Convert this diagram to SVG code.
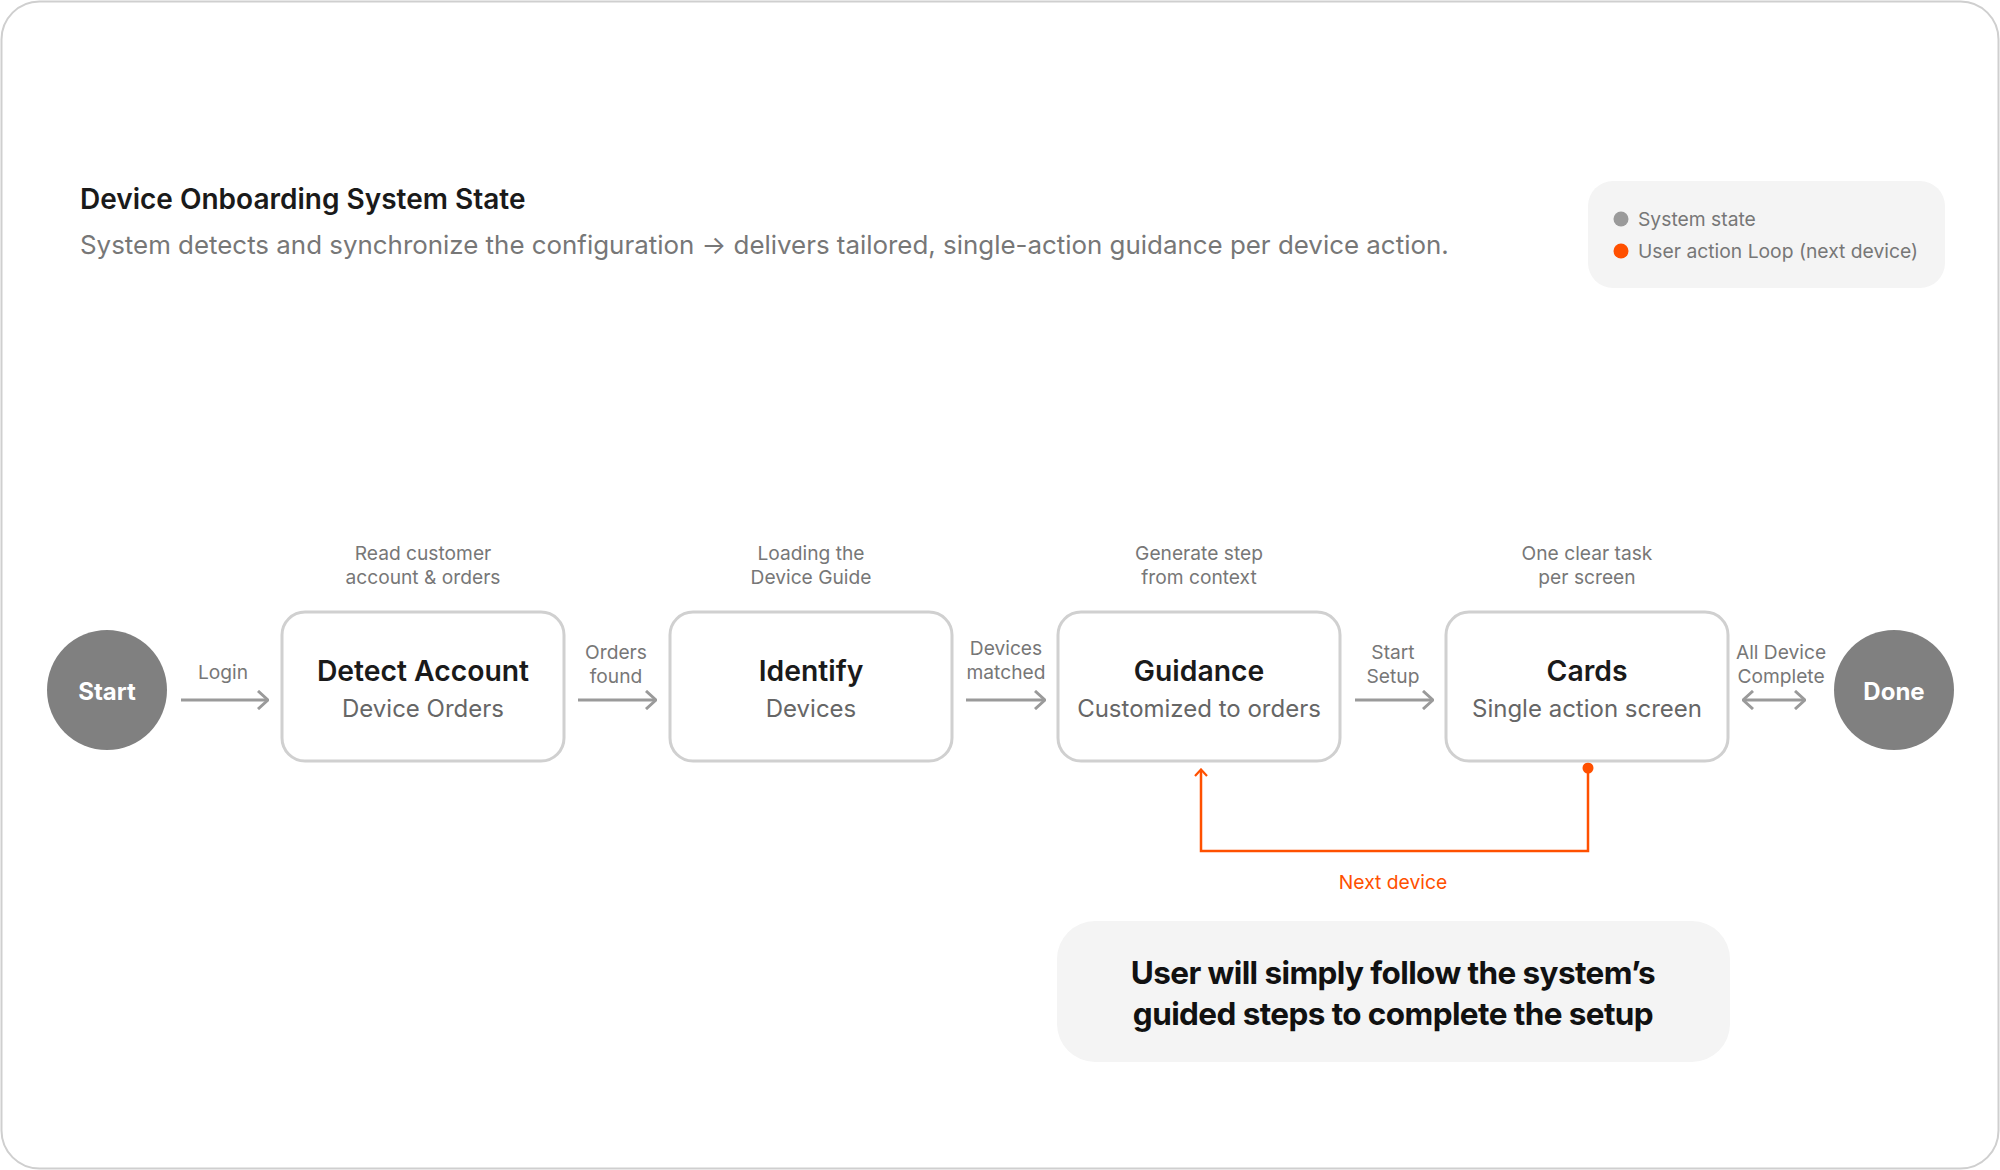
<svg xmlns="http://www.w3.org/2000/svg" width="2000" height="1170" viewBox="0 0 2000 1170">
<defs>
<style>
text{font-family:Inter,"Noto Sans","Liberation Sans",sans-serif}
.box{fill:#fff;stroke:#d0d0d0;stroke-width:3}
.ttl{font-size:28.3px;font-weight:600;fill:#1a1a1a;text-anchor:middle}
.sub{font-size:24px;fill:#666;text-anchor:middle}
.note{font-size:19.2px;fill:#777;text-anchor:middle}
.lbl{font-size:19.2px;fill:#777;text-anchor:middle}
.term{fill:#808080}
.termt{font-size:24px;font-weight:700;fill:#fff;text-anchor:middle}
.conn{fill:none;stroke:#9a9a9a;stroke-width:3}
.loop{fill:none;stroke:#ff5000;stroke-width:2.5}
</style>
<marker id="ah" viewBox="0 0 12 20" refX="11" refY="10" markerWidth="12" markerHeight="20" markerUnits="userSpaceOnUse" orient="auto-start-reverse">
<path d="M1 1 L11 10 L1 19" fill="none" stroke="#9a9a9a" stroke-width="3"/>
</marker>
<marker id="ahO" viewBox="0 0 14 10" refX="7" refY="2" markerWidth="14" markerHeight="10" markerUnits="userSpaceOnUse" orient="0">
<path d="M1 8 L7 1.5 L13 8" fill="none" stroke="#ff5000" stroke-width="2.2"/>
</marker>
</defs>
<rect x="1.5" y="1.5" width="1997" height="1167" rx="38" fill="#fff" stroke="#cfcfcf" stroke-width="2"/>

<g id="header">
<text x="80" y="209" font-size="28" font-weight="600" fill="#1a1a1a">Device Onboarding System State</text>
<text x="80" y="254" font-size="25.9" fill="#777">System detects and synchronize the configuration → delivers tailored, single-action guidance per device action.</text>
</g>

<g id="legend">
<rect x="1588" y="181" width="357" height="107" rx="25" fill="#f4f4f4"/>
<circle cx="1621" cy="219" r="7.5" fill="#9a9a9a"/>
<text x="1638" y="226" font-size="19.3" fill="#777">System state</text>
<circle cx="1621" cy="251" r="7.5" fill="#ff5000"/>
<text x="1638" y="258" font-size="19.3" fill="#777">User action Loop (next device)</text>
</g>

<g id="connectors">
<line class="conn" x1="181" y1="700" x2="268" y2="700" marker-end="url(#ah)"/>
<text class="lbl" x="223" y="679">Login</text>
<line class="conn" x1="578" y1="700" x2="656" y2="700" marker-end="url(#ah)"/>
<text class="lbl" x="616" y="659">Orders</text>
<text class="lbl" x="616" y="683">found</text>
<line class="conn" x1="966" y1="700" x2="1045" y2="700" marker-end="url(#ah)"/>
<text class="lbl" x="1006" y="655">Devices</text>
<text class="lbl" x="1006" y="679">matched</text>
<line class="conn" x1="1355" y1="700" x2="1433" y2="700" marker-end="url(#ah)"/>
<text class="lbl" x="1393" y="659">Start</text>
<text class="lbl" x="1393" y="683">Setup</text>
<line class="conn" x1="1743" y1="700" x2="1805" y2="700" marker-start="url(#ah)" marker-end="url(#ah)"/>
<text class="lbl" x="1781" y="659">All Device</text>
<text class="lbl" x="1781" y="683">Complete</text>
<path class="loop" d="M1588 768 V851 H1201 V770" marker-end="url(#ahO)"/>
<circle cx="1588" cy="768" r="5.5" fill="#ff5000"/>
<text x="1393" y="889" font-size="19.3" fill="#ff5000" text-anchor="middle">Next device</text>
</g>

<g id="start">
<circle class="term" cx="107" cy="690" r="60"/>
<text class="termt" x="107" y="700">Start</text>
</g>

<g id="detect">
<text class="note" x="423" y="560">Read customer</text>
<text class="note" x="423" y="584">account &amp; orders</text>
<rect class="box" x="282" y="612" width="282" height="149" rx="23"/>
<text class="ttl" x="423" y="681">Detect Account</text>
<text class="sub" x="423" y="717">Device Orders</text>
</g>

<g id="identify">
<text class="note" x="811" y="560">Loading the</text>
<text class="note" x="811" y="584">Device Guide</text>
<rect class="box" x="670" y="612" width="282" height="149" rx="23"/>
<text class="ttl" x="811" y="681">Identify</text>
<text class="sub" x="811" y="717">Devices</text>
</g>

<g id="guidance">
<text class="note" x="1199" y="560">Generate step</text>
<text class="note" x="1199" y="584">from context</text>
<rect class="box" x="1058" y="612" width="282" height="149" rx="23"/>
<text class="ttl" x="1199" y="681">Guidance</text>
<text class="sub" x="1199" y="717">Customized to orders</text>
</g>

<g id="cards">
<text class="note" x="1587" y="560">One clear task</text>
<text class="note" x="1587" y="584">per screen</text>
<rect class="box" x="1446" y="612" width="282" height="149" rx="23"/>
<text class="ttl" x="1587" y="681">Cards</text>
<text class="sub" x="1587" y="717">Single action screen</text>
</g>

<g id="done">
<circle class="term" cx="1894" cy="690" r="60"/>
<text class="termt" x="1894" y="700">Done</text>
</g>

<g id="callout">
<rect x="1057" y="921" width="673" height="141" rx="38" fill="#f4f4f4"/>
<text x="1393" y="984" font-size="31.5" font-weight="700" fill="#111" text-anchor="middle" letter-spacing="-0.6">User will simply follow the system’s</text>
<text x="1393" y="1025" font-size="31.5" font-weight="700" fill="#111" text-anchor="middle" letter-spacing="-0.6">guided steps to complete the setup</text>
</g>
</svg>
